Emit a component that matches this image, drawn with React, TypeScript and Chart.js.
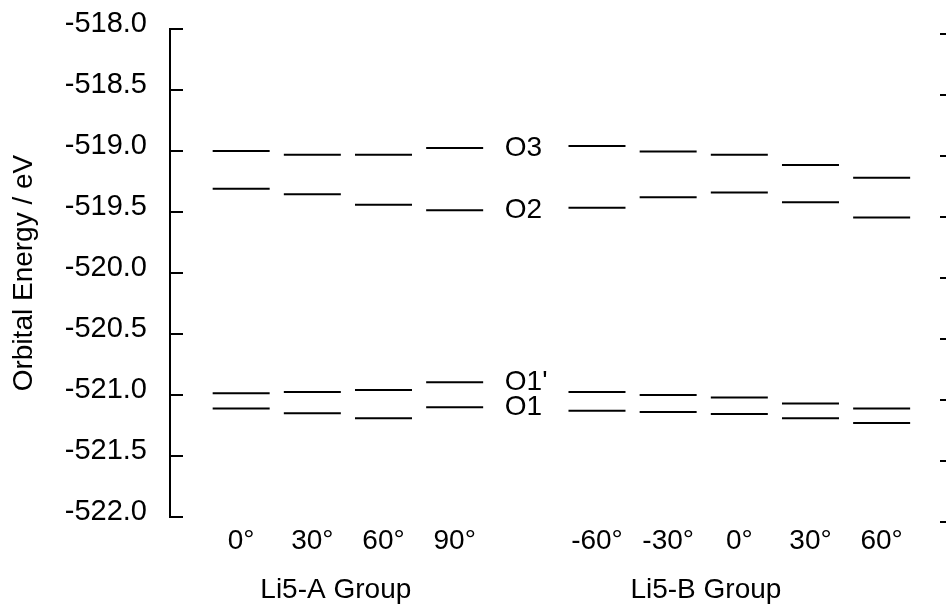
import React, { useEffect, useRef } from "react";
import { Chart, registerables } from "chart.js";

Chart.register(...registerables);

// ---- data ----
const categories = ["0°", "30°", "60°", "90°", "", "-60°", "-30°", "0°", "30°", "60°"];
const seriesNames = ["O3", "O2", "O1'", "O1"];
const o3 = [-519.0, -519.03, -519.03, -518.975, null, -518.96, -519.005, -519.03, -519.115, -519.22];
const o2 = [-519.31, -519.355, -519.44, -519.485, null, -519.465, -519.38, -519.34, -519.42, -519.545];
const o1p = [-520.985, -520.975, -520.96, -520.895, null, -520.975, -521.0, -521.02, -521.07, -521.11];
const o1 = [-521.11, -521.15, -521.19, -521.1, null, -521.13, -521.14, -521.155, -521.19, -521.23];
const groupLabels = ["Li5-A Group", "Li5-B Group"];
const groupCenters = [1.33, 6.53];
const yMin = -522.0;
const yMax = -518.0;
const yStep = 0.5;
const yTitle = "Orbital Energy / eV";

const allSeries = [o3, o2, o1p, o1];
const FONT = '"Liberation Sans", Arial, Helvetica, sans-serif';
const FONT_SIZE = 28;

const decorPlugin = {
  id: "decor",
  afterDraw(chart: any) {
    const ctx = chart.ctx;
    const xs = chart.scales.x;
    const ys = chart.scales.y;
    const area = chart.chartArea;
    ctx.save();
    ctx.strokeStyle = "#000";
    ctx.lineWidth = 2;
    // inward ticks on left axis, small ticks on right edge
    ys.ticks.forEach((t: any) => {
      const py = Math.round(ys.getPixelForValue(t.value));
      ctx.beginPath();
      ctx.moveTo(area.left, py);
      ctx.lineTo(area.left + 13, py);
      ctx.stroke();
      ctx.beginPath();
      ctx.moveTo(area.right, py + 5);
      ctx.lineTo(chart.width, py + 5);
      ctx.stroke();
    });
    // series labels in the middle gap
    ctx.fillStyle = "#000";
    ctx.font = `${FONT_SIZE}px ${FONT}`;
    ctx.textAlign = "left";
    ctx.textBaseline = "middle";
    const gapX = xs.getPixelForValue(4) - 21;
    allSeries.forEach((s, i) => {
      ctx.fillText(seriesNames[i], gapX, ys.getPixelForValue(s[3] as number));
    });
    // group labels
    ctx.textAlign = "center";
    groupLabels.forEach((g, i) => {
      ctx.fillText(g, xs.getPixelForValue(groupCenters[i]), 590);
    });
    ctx.restore();
  },
};

export default function App() {
  const ref = useRef<HTMLCanvasElement | null>(null);
  useEffect(() => {
    if (!ref.current) return;
    const datasets = allSeries.map((s, i) => ({
      label: seriesNames[i],
      data: s
        .map((v, k) => (v == null ? null : { x: k, y: v }))
        .filter((p) => p !== null),
      showLine: false,
      pointStyle: "line",
      pointRadius: 28.5,
      pointHoverRadius: 28.5,
      borderColor: "#000",
      backgroundColor: "#000",
      borderWidth: 2,
      pointBorderWidth: 2,
      clip: false,
    }));
    const chart = new Chart(ref.current, {
      type: "scatter",
      data: { datasets: datasets as any },
      options: {
        animation: false,
        responsive: false,
        devicePixelRatio: 1,
        layout: { autoPadding: false, padding: { top: 29, right: 6, left: 0, bottom: 0 } },
        plugins: { legend: { display: false }, tooltip: { enabled: false } },
        scales: {
          x: {
            type: "linear",
            min: -1,
            max: 9.82,
            grid: { display: false, drawTicks: false },
            border: { display: false },
            afterFit: (s: any) => {
              s.height = 97;
              s.paddingLeft = 0;
              s.paddingRight = 0;
              s.paddingTop = 0;
              s.paddingBottom = 0;
            },
            afterBuildTicks: (s: any) => {
              s.ticks = categories.map((_, i) => ({ value: i }));
            },
            ticks: {
              autoSkip: false,
              maxRotation: 0,
              padding: 7,
              color: "#000",
              font: { family: FONT, size: FONT_SIZE },
              callback: (v: any) => categories[v] ?? "",
            },
          },
          y: {
            type: "linear",
            min: yMin,
            max: yMax,
            grid: { display: false, drawTicks: false },
            border: { display: true, color: "#000", width: 2 },
            afterFit: (s: any) => {
              s.width = 170;
              s.paddingLeft = 0;
              s.paddingRight = 0;
              s.paddingTop = 0;
              s.paddingBottom = 0;
            },
            title: {
              display: true,
              text: yTitle,
              color: "#000",
              font: { family: FONT, size: FONT_SIZE },
              padding: { top: 7, bottom: 0 },
            },
            ticks: {
              stepSize: yStep,
              padding: 23,
              labelOffset: -5,
              color: "#000",
              font: { family: FONT, size: 29 },
              callback: (v: any) => Number(v).toFixed(1),
            },
          },
        },
      },
      plugins: [decorPlugin],
    });
    return () => chart.destroy();
  }, []);
  return (
    <div style={{ position: "absolute", left: 0, top: 0, width: 946, height: 614, background: "#fff" }}>
      <canvas ref={ref} width={946} height={614} style={{ width: 946, height: 614, display: "block" }} />
    </div>
  );
}
